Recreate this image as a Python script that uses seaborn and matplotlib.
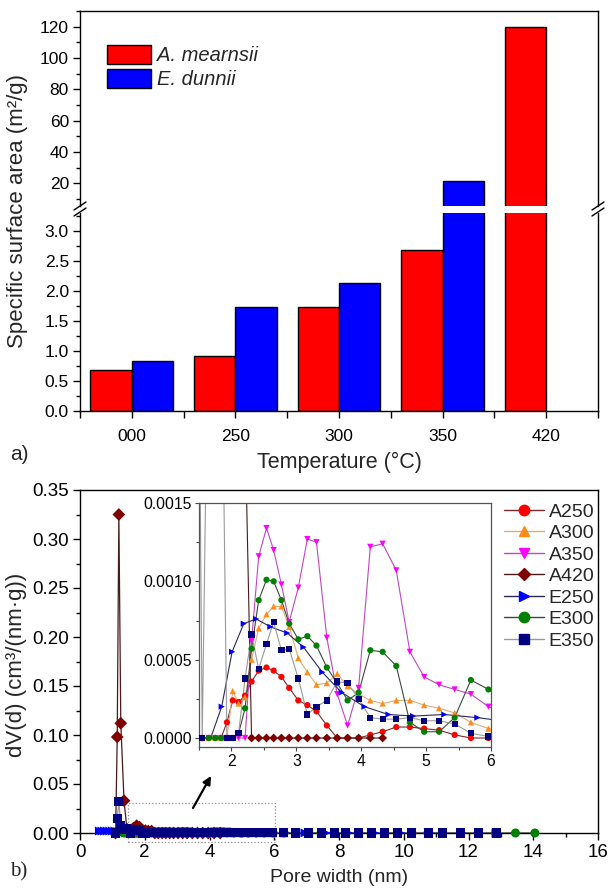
import numpy as np
import pandas as pd
import matplotlib
matplotlib.use("Agg")
import matplotlib.pyplot as plt
import seaborn as sns
from matplotlib.lines import Line2D
from matplotlib.patches import Patch, Rectangle
from matplotlib.ticker import MultipleLocator, FormatStrFormatter

# ---------------- data: panel a ----------------
temperatures = ['000', '250', '300', '350', '420']
species = ['A. mearnsii', 'E. dunnii']
mearnsii_area = [0.68, 0.92, 1.74, 2.69, 120.0]
dunnii_area = [0.83, 1.74, 2.14, 21.7, np.nan]

# ---------------- data: panel b ----------------
nan = np.nan
pore_grid = [1.10, 1.15, 1.20, 1.26, 1.36, 1.45,
             1.55, 1.65, 1.75, 1.84, 1.93, 2.02, 2.11, 2.21, 2.31,
             2.42, 2.54, 2.65, 2.77, 2.89, 3.03, 3.17, 3.31, 3.47, 3.63,
             3.79, 3.96, 4.14, 4.33, 4.54, 4.75, 4.97, 5.20, 5.44, 5.69, 5.96,
             6.30, 6.65, 7.05, 7.45, 7.85, 8.20, 8.60, 9.00, 9.40, 9.80,
             10.25, 10.75, 11.20, 11.75, 12.30, 12.85, 13.45, 14.05]

A250 = [nan, nan, nan, nan, nan, nan,
        0, 0, 0, 0, 0.0001, 0.00024, 0.00023, 0.00027, 0.00036,
        0.00043, 0.00045, 0.00043, 0.00039, 0.00032, 0.00024, 0.00021, 0.00017, 0.00008, 0.0,
        0.0, 0.0, 0.00002, 0.00004, 0.00007, 0.00007, 0.00006, 0.00005, 0.00002, 0.0, 0.0,
        0, 0, 0, 0, 0, 0, 0, 0, 0, 0,
        0, 0, 0, 0, 0, 0, nan, nan]
A300 = [nan, nan, nan, nan, nan, nan,
        0, 0, 0, 0, 0, 0.0003, 0.00022, 0.00026, 0.0005,
        0.0007, 0.00079, 0.00084, 0.00084, 0.00071, 0.00051, 0.00042, 0.00034, 0.00035, 0.00041,
        0.00033, 0.00028, 0.00024, 0.00022, 0.00024, 0.00024, 0.00021, 0.00019, 0.00016, 0.0001, 0.00006,
        0.00005, 0.00004, 0.00003, 0.00003, 0.00002, 0.00002, 0.00001, 0.00001, 0.00001, 0.0,
        0, 0, 0, 0, 0, 0, nan, nan]
A350 = [nan, nan, nan, nan, nan, nan,
        0, 0, 0, 0, 0, 0, 0, 0, 0.00062,
        0.00116, 0.00134, 0.0012, 0.00098, 0.00074, 0.00096, 0.00127, 0.00125, 0.00064, 0.00028,
        0.00008, 0.00032, 0.00122, 0.00124, 0.00107, 0.00055, 0.00039, 0.00034, 0.00031, 0.00028, 0.0002,
        0.00015, 0.00012, 0.0001, 0.00008, 0.00006, 0.00005, 0.00004, 0.00003, 0.00002, 0.00002,
        0.00001, 0.00001, 0, 0, 0, nan, nan, nan]
A420 = [0.0, 0.098, 0.325, 0.112, 0.033, 0.004,
        0.003, 0.005, 0.0075, 0.006, 0.003, 0.0025, 0.002, 0.002, 0.0,
        0, 0, 0, 0, 0, 0, 0, 0, 0, 0,
        0, 0, 0, 0, nan, nan, nan, nan, nan, nan, nan,
        nan, nan, nan, nan, nan, nan, nan, nan, nan, nan,
        nan, nan, nan, nan, nan, nan, nan, nan]
E300 = [nan, nan, nan, nan, 0.0, 0.0,
        0, 0, 0, 0, 0, 0, 0.00003, 0.00019, 0.00057,
        0.00088, 0.00101, 0.001, 0.00088, 0.00073, 0.00063, 0.00065, 0.00059, 0.00045, 0.00035,
        0.00024, 0.00029, 0.00056, 0.00055, 0.00046, 0.0001, 0.00004, 0.00004, 0.00013, 0.00037, 0.00031,
        0.00022, 0.00015, 0.0001, 0.00008, 0.00006, 0.00005, 0.00004, 0.00003, 0.00003, 0.00002,
        0.00002, 0.00001, 0.00001, 0.00001, 0.0, 0.0, 0.0, 0.0]
E350 = [0.0, 0.015, 0.032, 0.008, 0.004, 0.005,
        0.0, 0.003, 0.004, 0.003, 0.0, 0.0, 0.00003, 0.00038, 0.00066,
        0.00044, 0.0006, 0.00074, 0.00056, 0.00057, 0.00038, 0.00015, 0.0002, 0.00024, 0.00036,
        0.00035, 0.00025, 0.00013, 0.00012, 0.00012, 0.00013, 0.00011, 0.00011, 0.00009, 0.00003, 0.00001,
        0.00001, 0, 0, 0, 0, 0, 0, 0, 0, 0,
        0, 0, 0, 0, 0, 0, nan, nan]

E250_x = [0.60, 0.68, 0.76, 0.84, 0.92, 1.00, 1.08,
          1.15, 1.22, 1.30, 1.40, 1.52, 1.68,
          1.85, 2.01, 2.19, 2.38, 2.60, 2.86, 3.11, 3.40, 3.70, 4.05, 4.42, 4.80, 5.28, 5.79,
          6.35, 6.95, 7.60, 8.30, 9.10, 9.90, 10.80, 11.80, 12.85]
E250 = [0.002, 0.002, 0.002, 0.002, 0.002, 0.002, 0.002,
        0.0015, 0.001, 0.0, 0.0, 0.0, 0.0,
        0.0002, 0.00055, 0.00073, 0.00076, 0.00071, 0.00067, 0.00058, 0.00042, 0.00029, 0.0002,
        0.00015, 0.00014, 0.00015, 0.00013,
        0.0001, 0.00007, 0.00005, 0.00003, 0.00002, 0.00001, 0.00001, 0.0, 0.0]

series_names = ['A250', 'A300', 'A350', 'A420', 'E250', 'E300', 'E350']
line_colors = ['#7a2a2a', '#dcae78', '#c048c0', '#4a1a1a', '#2a2a5a', '#3a4a3a', '#9a9a9a']
marker_colors = ['#ff0000', '#ff8c1a', '#ff00ff', '#800000', '#0000ff', '#008000', '#000080']
marker_shapes = ['o', '^', 'v', 'D', '>', 'o', 's']

# ---------------- build tables ----------------
bars = pd.DataFrame({
    'temp': temperatures * 2,
    'area': mearnsii_area + dunnii_area,
    'species': [species[0]] * 5 + [species[1]] * 5,
}).dropna()

frames = []
for name, vals in zip(['A250', 'A300', 'A350', 'A420', 'E300', 'E350'],
                      [A250, A300, A350, A420, E300, E350]):
    frames.append(pd.DataFrame({'x': pore_grid, 'y': vals, 'series': name}))
frames.append(pd.DataFrame({'x': E250_x, 'y': E250, 'series': 'E250'}))
psd = pd.concat(frames).dropna()
psd['series'] = pd.Categorical(psd['series'], categories=series_names, ordered=True)
psd = psd.sort_values(['series', 'x'])

# ---------------- style ----------------
sns.set_theme(style='ticks')
plt.rcParams['font.family'] = ['Liberation Sans', 'DejaVu Sans']
plt.rcParams['axes.linewidth'] = 1.0

W, H = 610, 889
fig = plt.figure(figsize=(W / 100, H / 100), dpi=100)


def box(l, t, r, b):
    return [l / W, 1 - b / H, (r - l) / W, (b - t) / H]


ax_up = fig.add_axes(box(80, 11, 598, 206))
ax_lo = fig.add_axes(box(80, 213, 598, 411))
ax_b = fig.add_axes(box(80, 490, 598, 833))
ax_in = fig.add_axes(box(199, 503, 491, 747))

bar_pal = {species[0]: '#ff0000', species[1]: '#0000ff'}
for ax in (ax_up, ax_lo):
    sns.barplot(data=bars, x='temp', y='area', hue='species', order=temperatures,
                hue_order=species, palette=bar_pal, edgecolor='black', linewidth=1,
                saturation=1, width=0.8, legend=False, ax=ax)
    ax.set_xlim(-0.5, 4.5)
    ax.set_xlabel('')
    ax.set_ylabel('')
    for s in ax.spines.values():
        s.set_color('black')
        s.set_linewidth(1.0)

ax_up.set_ylim(5.5, 130)
ax_up.spines['bottom'].set_visible(False)
ax_up.tick_params(axis='x', bottom=False, labelbottom=False)
ax_up.yaxis.set_minor_locator(MultipleLocator(10))
ax_up.set_yticks([20, 40, 60, 80, 100, 120])
ax_up.yaxis.set_major_formatter(FormatStrFormatter('%d'))

ax_lo.set_ylim(0, 3.3)
ax_lo.spines['top'].set_visible(False)
ax_lo.set_yticks([0, 0.5, 1.0, 1.5, 2.0, 2.5, 3.0])
ax_lo.yaxis.set_minor_locator(MultipleLocator(0.25))
ax_lo.yaxis.set_major_formatter(FormatStrFormatter('%.1f'))
ax_lo.set_xticks(range(5))
ax_lo.set_xticklabels(temperatures)
ax_lo.set_xticks([-0.5, 0.5, 1.5, 2.5, 3.5, 4.5], minor=True)

for ax in (ax_up, ax_lo):
    ax.tick_params(which='both', direction='out', color='black', width=1,
                   labelsize=12.5, labelcolor='black', right=False, top=False)
    ax.tick_params(which='major', length=5, pad=3)
    ax.tick_params(which='minor', length=3)
ax_lo.tick_params(axis='x', which='both', length=5, pad=8)

# axis-break marks
for xp in (80, 598):
    for yc in (206.0, 212.0):
        fig.add_artist(Line2D([(xp - 6) / W, (xp + 6) / W],
                              [1 - (yc + 4) / H, 1 - (yc - 4) / H],
                              color='black', lw=1.0, transform=fig.transFigure))

fig.legend(handles=[Patch(facecolor='#ff0000', edgecolor='black', lw=1),
                    Patch(facecolor='#0000ff', edgecolor='black', lw=1)],
           labels=species, loc='upper left', bbox_to_anchor=(107 / W, 1 - 45 / H),
           frameon=False, prop={'style': 'italic', 'size': 14.5},
           handlelength=2.2, handleheight=1.05, labelspacing=0.2, handletextpad=0.3,
           borderpad=0, borderaxespad=0)

fig.text(18 / W, 1 - 211 / H, 'Specific surface area (m²/g)', rotation=90,
         ha='center', va='center', fontsize=16)
fig.text(339 / W, 1 - 462 / H, 'Temperature (°C)', ha='center', va='center', fontsize=15.5)
fig.text(10 / W, 1 - 455 / H, 'a)', ha='left', va='center', fontsize=15)

# ---------------- panel b ----------------
line_pal = dict(zip(series_names, line_colors))
mark_pal = dict(zip(series_names, marker_colors))
mark_map = dict(zip(series_names, marker_shapes))

for ax, ms, lw in ((ax_b, 42, 0.9), (ax_in, 20, 0.8)):
    sns.lineplot(data=psd, x='x', y='y', hue='series', hue_order=series_names,
                 palette=line_pal, estimator=None, sort=False, units='series',
                 lw=lw, legend=False, ax=ax)
    sns.scatterplot(data=psd, x='x', y='y', hue='series', hue_order=series_names,
                    palette=mark_pal, style='series', style_order=series_names,
                    markers=mark_map, s=ms, linewidth=0, legend=False, ax=ax, zorder=3)
    ax.set_xlabel('')
    ax.set_ylabel('')

ax_b.collections[-1].set_clip_on(False)
ax_b.set_xlim(0, 16)
ax_b.set_ylim(0, 0.35)
ax_b.xaxis.set_major_locator(MultipleLocator(2))
ax_b.xaxis.set_minor_locator(MultipleLocator(1))
ax_b.yaxis.set_major_locator(MultipleLocator(0.05))
ax_b.yaxis.set_minor_locator(MultipleLocator(0.025))
ax_b.yaxis.set_major_formatter(FormatStrFormatter('%.2f'))
ax_b.tick_params(which='both', direction='out', color='black', width=1,
                 labelsize=13.5, labelcolor='black', top=False, right=False)
ax_b.tick_params(which='major', length=5, pad=3)
ax_b.tick_params(which='minor', length=3)
for s in ax_b.spines.values():
    s.set_color('black')
    s.set_linewidth(1.0)

ax_b.add_patch(Rectangle((1.47, -0.009), 4.56, 0.040, fill=False, ls=':',
                         ec='#909090', lw=0.9, clip_on=False, zorder=1))
ax_b.annotate('', xy=(211 / W, 1 - 776 / H), xytext=(193 / W, 1 - 808 / H),
              xycoords='figure fraction', textcoords='figure fraction',
              arrowprops=dict(arrowstyle='-|>', color='black', lw=1.6,
                              mutation_scale=12, shrinkA=0, shrinkB=0))

ax_in.set_xlim(1.5, 6.0)
ax_in.set_ylim(-0.0000574, 0.0015)
ax_in.set_xticks([2, 3, 4, 5, 6])
ax_in.xaxis.set_minor_locator(MultipleLocator(0.5))
ax_in.set_yticks([0, 0.0005, 0.0010, 0.0015])
ax_in.yaxis.set_minor_locator(MultipleLocator(0.00025))
ax_in.yaxis.set_major_formatter(FormatStrFormatter('%.4f'))
ax_in.tick_params(which='both', direction='out', color='#444444', width=0.8,
                  labelsize=11.3, labelcolor='black', top=False, right=False)
ax_in.tick_params(which='major', length=3, pad=2)
ax_in.tick_params(which='minor', length=2)
ax_in.set_facecolor('white')
for s in ax_in.spines.values():
    s.set_color('#555555')
    s.set_linewidth(0.9)

handles = [Line2D([0], [0], color=lc, lw=1, marker=mk, markerfacecolor=mc,
                  markeredgecolor=mc, markersize=7.5 if mk != 'D' else 6.5)
           for lc, mc, mk in zip(line_colors, marker_colors, marker_shapes)]
fig.legend(handles=handles, labels=series_names, loc='upper left',
           bbox_to_anchor=(504 / W, 1 - 503 / H), frameon=False, fontsize=14,
           handlelength=2.05, labelspacing=0.2, handletextpad=0.25,
           borderpad=0, borderaxespad=0)

fig.text(17 / W, 1 - 665 / H, 'dV(d) (cm³/(nm·g))', rotation=90,
         ha='center', va='center', fontsize=16)
fig.text(339 / W, 1 - 877 / H, 'Pore width (nm)', ha='center', va='center', fontsize=14)
fig.text(10 / W, 1 - 872 / H, 'b)', ha='left', va='center', fontsize=15,
         family=['Liberation Serif', 'DejaVu Serif'])

fig.savefig('out.png', dpi=100)
